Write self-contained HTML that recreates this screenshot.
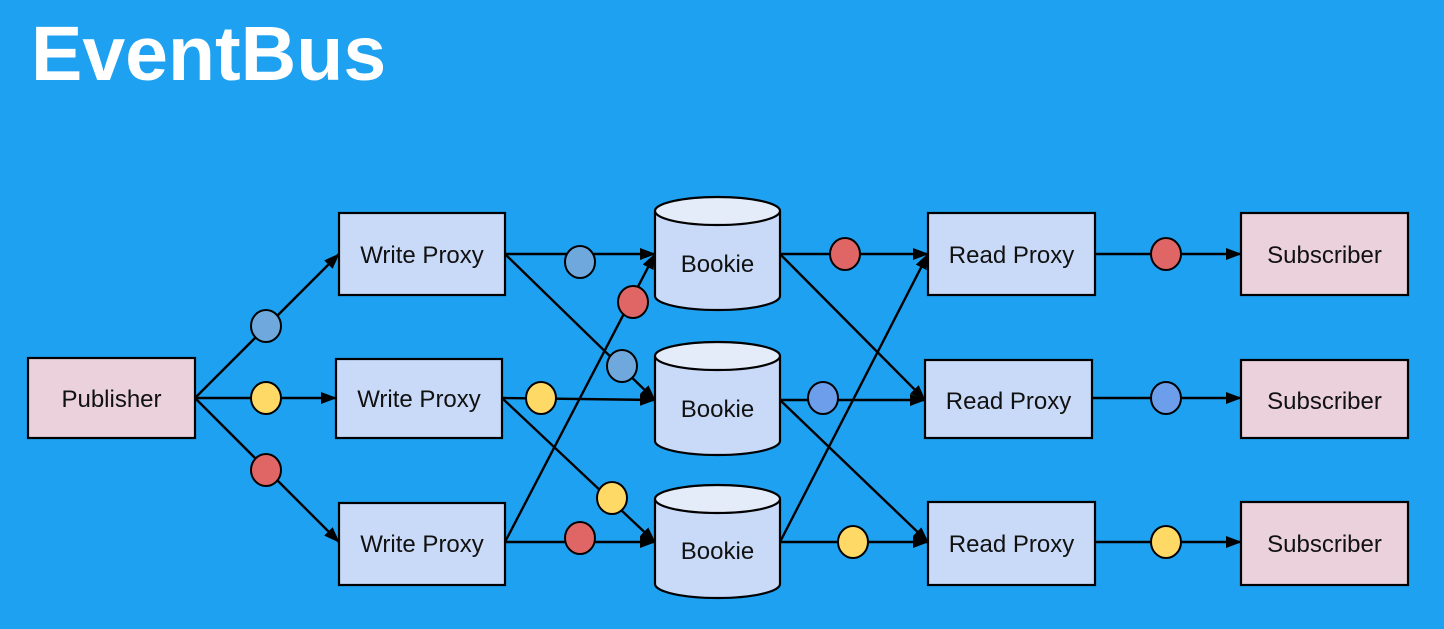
<!DOCTYPE html>
<html><head><meta charset="utf-8"><style>
html,body{margin:0;padding:0;background:#1ea1f1;width:1444px;height:629px;overflow:hidden}
svg{position:absolute;left:0;top:0}
</style></head><body>
<svg width="1444" height="629" viewBox="0 0 1444 629" font-family="Liberation Sans, sans-serif">
<defs><marker id="a" markerWidth="16" markerHeight="12" refX="15" refY="6" orient="auto" markerUnits="userSpaceOnUse"><path d="M0,0 L16,6 L0,12 z" fill="#000"/></marker></defs>
<text x="31" y="80" font-size="77" font-weight="bold" fill="#fff">EventBus</text>
<g stroke="#000" stroke-width="2.4" fill="none" marker-end="url(#a)">
<line x1="195" y1="398" x2="339" y2="254"/>
<line x1="195" y1="398" x2="336" y2="398"/>
<line x1="195" y1="398" x2="339" y2="542"/>
<line x1="505" y1="254" x2="655" y2="254"/>
<line x1="505" y1="254" x2="655" y2="400"/>
<line x1="502" y1="398" x2="655" y2="400"/>
<line x1="502" y1="398" x2="655" y2="542"/>
<line x1="505" y1="542" x2="655" y2="254"/>
<line x1="505" y1="542" x2="655" y2="542"/>
<line x1="780" y1="254" x2="928" y2="254"/>
<line x1="780" y1="254" x2="925" y2="400"/>
<line x1="780" y1="400" x2="925" y2="400"/>
<line x1="780" y1="400" x2="928" y2="542"/>
<line x1="780" y1="542" x2="928" y2="254"/>
<line x1="780" y1="542" x2="928" y2="542"/>
<line x1="1095" y1="254" x2="1241" y2="254"/>
<line x1="1092" y1="398" x2="1241" y2="398"/>
<line x1="1095" y1="542" x2="1241" y2="542"/>
</g>
<g stroke="#000" stroke-width="2.2">
<rect x="28" y="358" width="167" height="80" fill="#ead1dc"/>
<rect x="339" y="213" width="166" height="82" fill="#c9daf8"/>
<rect x="336" y="359" width="166" height="79" fill="#c9daf8"/>
<rect x="339" y="503" width="166" height="82" fill="#c9daf8"/>
<rect x="928" y="213" width="167" height="82" fill="#c9daf8"/>
<rect x="925" y="360" width="167" height="78" fill="#c9daf8"/>
<rect x="928" y="502" width="167" height="83" fill="#c9daf8"/>
<rect x="1241" y="213" width="167" height="82" fill="#ead1dc"/>
<rect x="1241" y="360" width="167" height="78" fill="#ead1dc"/>
<rect x="1241" y="502" width="167" height="83" fill="#ead1dc"/>
</g>
<g stroke="#000" stroke-width="2.2" fill="#c9daf8">
<path d="M655,211 V296 A62.5,14 0 0 0 780,296 V211"/><ellipse cx="717.5" cy="211" rx="62.5" ry="14" fill="#e4ecfa"/>
<path d="M655,356 V441 A62.5,14 0 0 0 780,441 V356"/><ellipse cx="717.5" cy="356" rx="62.5" ry="14" fill="#e4ecfa"/>
<path d="M655,499 V584 A62.5,14 0 0 0 780,584 V499"/><ellipse cx="717.5" cy="499" rx="62.5" ry="14" fill="#e4ecfa"/>
</g>
<g stroke="#000" stroke-width="2">
<ellipse cx="266" cy="326" rx="15" ry="16" fill="#6fa8dc"/>
<ellipse cx="266" cy="398" rx="15" ry="16" fill="#ffd966"/>
<ellipse cx="266" cy="470" rx="15" ry="16" fill="#e06666"/>
<ellipse cx="580" cy="262" rx="15" ry="16" fill="#6fa8dc"/>
<ellipse cx="622" cy="366" rx="15" ry="16" fill="#6fa8dc"/>
<ellipse cx="541" cy="398" rx="15" ry="16" fill="#ffd966"/>
<ellipse cx="612" cy="498" rx="15" ry="16" fill="#ffd966"/>
<ellipse cx="633" cy="302" rx="15" ry="16" fill="#e06666"/>
<ellipse cx="580" cy="538" rx="15" ry="16" fill="#e06666"/>
<ellipse cx="845" cy="254" rx="15" ry="16" fill="#e06666"/>
<ellipse cx="823" cy="398" rx="15" ry="16" fill="#6d9eeb"/>
<ellipse cx="853" cy="542" rx="15" ry="16" fill="#ffd966"/>
<ellipse cx="1166" cy="254" rx="15" ry="16" fill="#e06666"/>
<ellipse cx="1166" cy="398" rx="15" ry="16" fill="#6d9eeb"/>
<ellipse cx="1166" cy="542" rx="15" ry="16" fill="#ffd966"/>
</g>
<g font-size="24" fill="#111" text-anchor="middle">
<text x="111.5" y="407">Publisher</text>
<text x="422" y="263">Write Proxy</text>
<text x="419" y="407">Write Proxy</text>
<text x="422" y="552">Write Proxy</text>
<text x="717.5" y="272">Bookie</text>
<text x="717.5" y="417">Bookie</text>
<text x="717.5" y="559">Bookie</text>
<text x="1011.5" y="263">Read Proxy</text>
<text x="1008.5" y="409">Read Proxy</text>
<text x="1011.5" y="552">Read Proxy</text>
<text x="1324.5" y="263">Subscriber</text>
<text x="1324.5" y="409">Subscriber</text>
<text x="1324.5" y="552">Subscriber</text>
</g>
</svg>
</body></html>
